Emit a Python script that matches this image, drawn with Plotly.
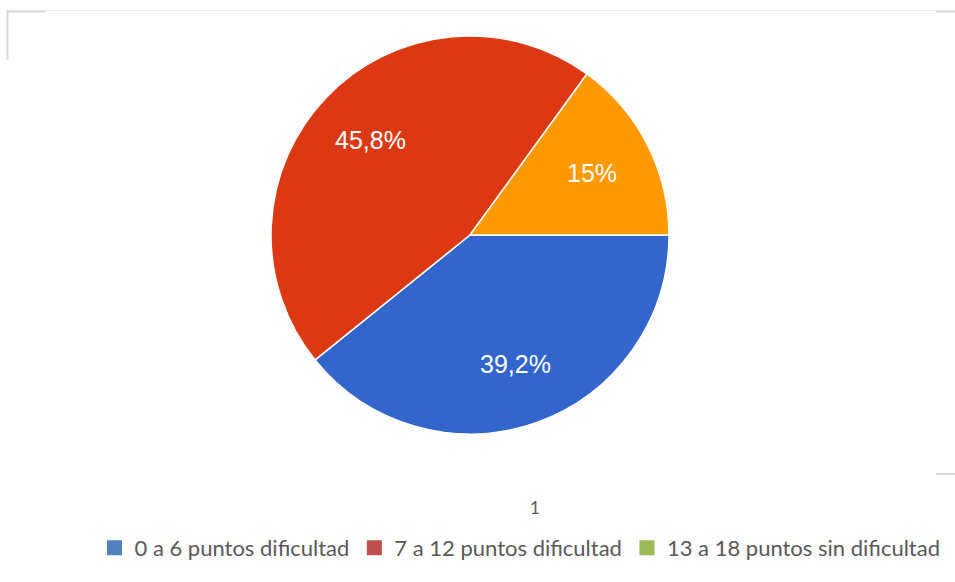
import math
import plotly.graph_objects as go

categories = ["0 a 6 puntos dificultad", "7 a 12 puntos dificultad", "13 a 18 puntos sin dificultad"]
values = [39.2, 45.8, 15.0]
pie_colors = ["#3366CC", "#DC3912", "#FF9900"]
legend_colors = ["#4F81BD", "#C0504D", "#9BBB59"]
axis_label = "1"

W, H = 955, 582
CX, CY, R = 470, 235, 199     # pie centre / radius in pixels
LABEL_FRAC = 0.69
START_DEG = 90                # first slice starts at 3 o'clock, clockwise

def fmt(v):
    s = ("%.1f" % v).rstrip("0").rstrip(".")
    return s.replace(".", ",") + "%"

texts = [fmt(v) for v in values]

fig = go.Figure()
fig.add_trace(go.Pie(
    labels=categories, values=values, textinfo="none",
    sort=False, direction="clockwise", rotation=START_DEG,
    marker=dict(colors=pie_colors, line=dict(color="white", width=1.5)),
    showlegend=False, hoverinfo="label+percent",
    domain=dict(x=[(CX - R) / W, (CX + R) / W], y=[1 - (CY + R) / H, 1 - (CY - R) / H]),
))
for name, col in zip(categories, legend_colors):
    fig.add_trace(go.Scatter(
        x=[None], y=[None], mode="markers", name=name,
        marker=dict(symbol="square", size=15, color=col),
    ))

# slice labels placed along each slice's bisector (Google-chart style)
total = sum(values)
annotations = []
cum = 0.0
for v, t in zip(values, texts):
    mid = (cum + v / 2) / total * 360.0   # clockwise from 3 o'clock
    cum += v
    th = math.radians(mid)
    px = CX + LABEL_FRAC * R * math.cos(th)
    py = CY + LABEL_FRAC * R * math.sin(th)
    annotations.append(dict(text=t, x=px / W, y=1 - py / H, xref="paper", yref="paper",
                            showarrow=False, xanchor="center", yanchor="middle",
                            font=dict(family="Liberation Sans, Arial", size=25, color="white")))
annotations.append(dict(text=axis_label, x=535 / W, y=1 - 507 / H, xref="paper", yref="paper",
                        showarrow=False, xanchor="center", yanchor="middle",
                        font=dict(family="Lato, sans-serif", size=17, color="#595959")))

shape_col = "#D9D9D9"
fig.update_layout(
    width=W, height=H,
    margin=dict(l=0, r=0, t=0, b=0),
    paper_bgcolor="white", plot_bgcolor="white",
    xaxis=dict(visible=False), yaxis=dict(visible=False),
    showlegend=True,
    legend=dict(orientation="h", x=520 / W, xanchor="center", y=1 - 548 / H, yanchor="middle",
                font=dict(family="Lato, sans-serif", size=22, color="#595959"),
                itemwidth=30, tracegroupgap=0, bgcolor="rgba(0,0,0,0)"),
    annotations=annotations,
    shapes=[
        dict(type="line", xref="paper", yref="paper", x0=7 / W, x1=1, y0=1 - 10.5 / H, y1=1 - 10.5 / H,
             line=dict(color="#EBEBEB", width=1)),
        dict(type="line", xref="paper", yref="paper", x0=7.5 / W, x1=7.5 / W, y0=1 - 10 / H, y1=1 - 60 / H,
             line=dict(color=shape_col, width=2)),
        dict(type="line", xref="paper", yref="paper", x0=7 / W, x1=45 / W, y0=1 - 11.5 / H, y1=1 - 11.5 / H,
             line=dict(color=shape_col, width=2)),
        dict(type="line", xref="paper", yref="paper", x0=936 / W, x1=1, y0=1 - 11.5 / H, y1=1 - 11.5 / H,
             line=dict(color=shape_col, width=2)),
        dict(type="line", xref="paper", yref="paper", x0=936 / W, x1=1, y0=1 - 474 / H, y1=1 - 474 / H,
             line=dict(color=shape_col, width=2)),
    ],
)
fig.write_html("out.html", config={"displayModeBar": False},
               post_script="document.body.style.margin='0';")
